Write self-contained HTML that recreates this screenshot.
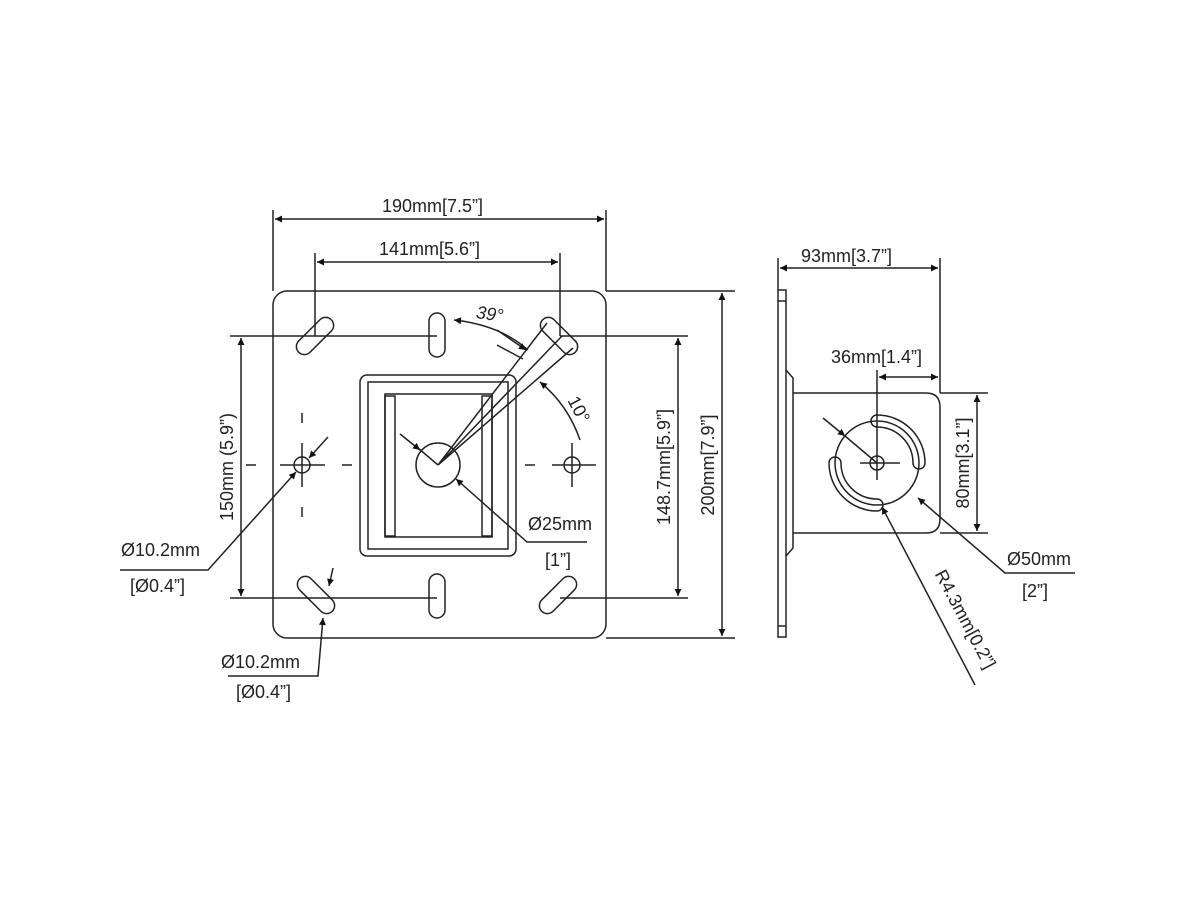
<!DOCTYPE html>
<html><head><style>
html,body{margin:0;padding:0;background:#fff;}
svg{display:block;}
text{font-family:"Liberation Sans",Arial,sans-serif;font-size:18px;fill:#222;}
</style></head><body>
<svg width="1200" height="900" viewBox="0 0 1200 900" xmlns="http://www.w3.org/2000/svg">
<defs>
<marker id="a" viewBox="0 0 10 10" refX="10" refY="5" markerWidth="13" markerHeight="7" orient="auto-start-reverse" markerUnits="userSpaceOnUse"><path d="M0,0L10,5L0,10z" fill="#111"/></marker>
</defs>
<g fill="none" stroke="#222" stroke-width="1.5">
<rect x="273" y="291" width="333" height="347" rx="14"/>
<rect x="292" y="328" width="46" height="16" rx="8" transform="rotate(-45 315 336)"/>
<rect x="429" y="313" width="16" height="44" rx="8"/>
<rect x="536" y="328" width="46" height="16" rx="8" transform="rotate(45 559 336)"/>
<rect x="293" y="587" width="46" height="16" rx="8" transform="rotate(45 316 595)"/>
<rect x="429" y="574" width="16" height="44" rx="8"/>
<rect x="535" y="587" width="46" height="16" rx="8" transform="rotate(-45 558 595)"/>
<rect x="360" y="375" width="156" height="181" rx="7"/>
<rect x="368" y="382" width="140" height="167"/>
<rect x="385" y="394" width="107" height="143"/>
<rect x="385" y="396" width="10" height="140"/>
<rect x="482" y="396" width="10" height="140"/>
<circle cx="438" cy="465" r="22"/>
<circle cx="302" cy="465" r="8"/><circle cx="572" cy="465" r="8"/>
<path d="M280 465H325M302 443V487M552 465H596M572 443V487"/>
<path d="M246 465H256M342 465H352M302 413V423M302 507V517M525 465H535"/>
<path d="M273 210V291M606 210V291M315 253V336M560 253V336"/>
<path d="M275 219H604" marker-start="url(#a)" marker-end="url(#a)"/>
<path d="M317 262H558" marker-start="url(#a)" marker-end="url(#a)"/>
<path d="M230 336H437M230 598H437M560 336H688M560 598H688M606 291H735M606 638H735"/>
<path d="M241 338V596" marker-start="url(#a)" marker-end="url(#a)"/>
<path d="M678 338V596" marker-start="url(#a)" marker-end="url(#a)"/>
<path d="M722 293V636" marker-start="url(#a)" marker-end="url(#a)"/>
<path d="M120 570H208L296 472" marker-end="url(#a)"/>
<path d="M328 437L309 458" marker-end="url(#a)"/>
<path d="M228 676H318L323 618" marker-end="url(#a)"/>
<path d="M333 568L329 586" marker-end="url(#a)"/>
<path d="M400 434L420 450" marker-end="url(#a)"/>
<path d="M587 542H527L456 479" marker-end="url(#a)"/>
<path d="M438 465L418 448"/>
<path d="M438 465L547 323M438 465L562 336M438 465L573 348"/>
<path d="M454 320Q500 325 528 350" marker-start="url(#a)"/>
<path d="M497 330L526 350" marker-end="url(#a)"/>
<path d="M540 382Q568 405 580 440" marker-start="url(#a)"/>
<path d="M497 345L523 359"/>
<rect x="778" y="290" width="8" height="347"/>
<path d="M778 301H786M778 626H786"/>
<path d="M786 370L793 378V548L786 556"/>
<path d="M793 393H926Q940 393 940 407V519Q940 533 926 533H793"/>
<path d="M778 258V290M940 258V393"/>
<path d="M780 268H938" marker-start="url(#a)" marker-end="url(#a)"/>
<path d="M877 370V480"/>
<path d="M879 377H938" marker-start="url(#a)" marker-end="url(#a)"/>
<path d="M940 393H988M940 533H988"/>
<path d="M977 395V531" marker-start="url(#a)" marker-end="url(#a)"/>
<circle cx="877" cy="463" r="42"/>
<circle cx="877" cy="463" r="7"/>
<path d="M860 463H900"/>
<path d="M877 415A48 48 0 0 1 925 463A6 6 0 0 1 913 463A36 36 0 0 0 877 427A6 6 0 0 1 877 415Z"/>
<path d="M877 511A48 48 0 0 1 829 463A6 6 0 0 1 841 463A36 36 0 0 0 877 499A6 6 0 0 1 877 511Z"/>
<path d="M823 418L845 436" marker-end="url(#a)"/>
<path d="M1075 573H1005L918 498" marker-end="url(#a)"/>
<path d="M845 436L877 463"/>
<path d="M975 685L882 507" marker-end="url(#a)"/>
</g>
<g>
<text x="382" y="212">190mm[7.5”]</text>
<text x="379" y="255">141mm[5.6”]</text>
<text x="476" y="320" font-style="italic" transform="rotate(8 490 315)">39°</text>
<text x="560" y="408" transform="rotate(62 570 410)">10°</text>
<text x="528" y="530">Ø25mm</text>
<text x="545" y="566">[1”]</text>
<text x="121" y="556">Ø10.2mm</text>
<text x="130" y="592">[Ø0.4”]</text>
<text x="221" y="668">Ø10.2mm</text>
<text x="236" y="698">[Ø0.4”]</text>
<text transform="translate(233 467) rotate(-90)" text-anchor="middle">150mm (5.9”)</text>
<text transform="translate(670 467) rotate(-90)" text-anchor="middle">148.7mm[5.9”]</text>
<text transform="translate(714 465) rotate(-90)" text-anchor="middle">200mm[7.9”]</text>
<text x="801" y="262">93mm[3.7”]</text>
<text x="831" y="363">36mm[1.4”]</text>
<text transform="translate(969 463) rotate(-90)" text-anchor="middle">80mm[3.1”]</text>
<text x="1007" y="565">Ø50mm</text>
<text x="1022" y="597">[2”]</text>
<text transform="translate(960 622) rotate(62)" text-anchor="middle">R4.3mm[0.2”]</text>
</g>
</svg>
</body></html>
